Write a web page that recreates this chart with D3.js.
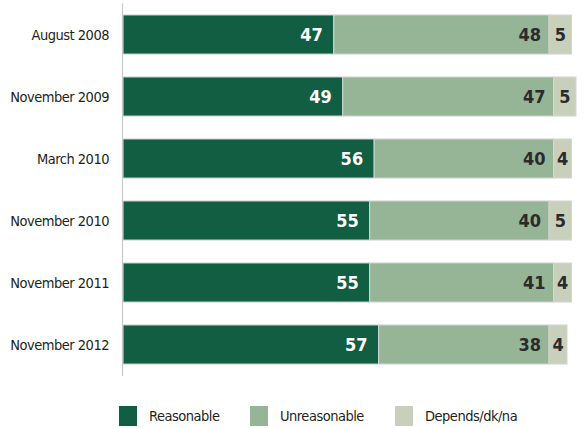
<!DOCTYPE html>
<html>
<head>
<meta charset="utf-8">
<script src="https://cdn.jsdelivr.net/npm/d3@7"></script>
<style>
  body { margin: 0; background: #fff; }
  svg text { font-family: "Liberation Sans Narrow", "DejaVu Sans Condensed", "Roboto", sans-serif; }
</style>
</head>
<body>
<div id="chart"></div>
<script>
let categories = ["August 2008", "November 2009", "March 2010", "November 2010", "November 2011", "November 2012"];
let reasonable = [47, 49, 56, 55, 55, 57];
let unreasonable = [48, 47, 40, 40, 41, 38];
let depends = [5, 5, 4, 5, 4, 4];
let seriesNames = ["Reasonable", "Unreasonable", "Depends/dk/na"];
let colors = ["#115e42", "#96b496", "#c8d0bc"];

let width = 583, height = 428;

let rows = categories.map((c, i) => ({cat: c, Reasonable: reasonable[i], Unreasonable: unreasonable[i], "Depends/dk/na": depends[i]}));
let stacked = d3.stack().keys(seriesNames)(rows);

let svg = d3.select("#chart")
    .append("svg")
    .attr("width", width)
    .attr("height", height);

let x = d3.scaleLinear()
    .domain([0, 100])
    .range([123, 571.5]);
let y = d3.scaleBand()
    .domain(categories)
    .range([3.5, 375.5])
    .paddingInner(0.37)
    .paddingOuter(0.185);

// bars
let layers = svg.selectAll("g.layer")
    .data(stacked)
    .enter()
    .append("g")
    .attr("class", "layer")
    .attr("fill", (d, i) => colors[i]);

layers.selectAll("rect")
    .data(d => d)
    .enter()
    .append("rect")
    .attr("x", d => x(d[0]))
    .attr("y", d => y(d.data.cat))
    .attr("width", d => x(d[1]) - x(d[0]))
    .attr("height", y.bandwidth())
    .attr("stroke", "#d4d4d4")
    .attr("stroke-width", 1);

// axis line
svg.append("line")
    .attr("x1", 122.5).attr("x2", 122.5)
    .attr("y1", 3.5).attr("y2", 376)
    .attr("stroke", "#c8c8c8")
    .attr("stroke-width", 1.2);

// category labels
svg.selectAll("text.cat")
    .data(categories)
    .enter()
    .append("text")
    .attr("class", "cat")
    .attr("x", 109)
    .attr("y", d => y(d) + y.bandwidth() / 2)
    .attr("dy", "0.35em")
    .attr("text-anchor", "end")
    .attr("font-size", 14.5)
    .attr("letter-spacing", -0.5)
    .attr("fill", "#231f20")
    .text(d => d);

// value labels
let pad = [11, 8];
stacked.forEach((layer, li) => {
    svg.selectAll("text.v" + li)
        .data(layer)
        .enter()
        .append("text")
        .attr("class", "v" + li)
        .attr("x", d => li === 2 ? (x(d[0]) + x(d[1])) / 2 : x(d[1]) - pad[li])
        .attr("y", d => y(d.data.cat) + y.bandwidth() / 2)
        .attr("dy", "0.36em")
        .attr("text-anchor", li === 2 ? "middle" : "end")
        .attr("font-size", 18)
        .attr("font-weight", "bold")
        .attr("fill", li === 0 ? "#ffffff" : "#2b2b2b")
        .text(d => d[1] - d[0]);
});

// legend
let legendX = [119, 250, 395];
let legend = svg.selectAll("g.legend")
    .data(seriesNames)
    .enter()
    .append("g")
    .attr("class", "legend")
    .attr("transform", (d, i) => "translate(" + legendX[i] + ",406)");

legend.append("rect")
    .attr("width", 18)
    .attr("height", 20)
    .attr("fill", (d, i) => colors[i]);

legend.append("text")
    .attr("x", 30)
    .attr("y", 10)
    .attr("dy", "0.35em")
    .attr("font-size", 14.5)
    .attr("letter-spacing", -0.5)
    .attr("fill", "#231f20")
    .text(d => d);
</script>
</body>
</html>
